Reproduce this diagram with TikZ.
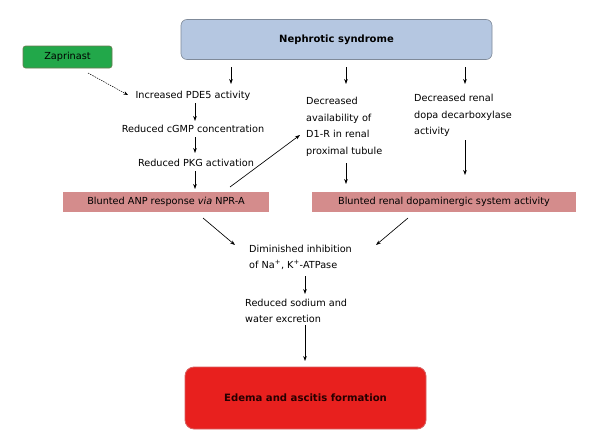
\documentclass[tikz,border=0pt]{standalone}
\usepackage{fontspec}
\setmainfont{DejaVu Sans}
\usetikzlibrary{arrows.meta}
\definecolor{nsblue}{HTML}{B5C7E1}
\definecolor{nsborder}{HTML}{7F8A99}
\definecolor{zgreen}{HTML}{22A84A}
\definecolor{zborder}{HTML}{6B7A50}
\definecolor{pinkbox}{HTML}{D48C8C}
\definecolor{redbox}{HTML}{E8201E}
\definecolor{redborder}{HTML}{D86060}
\begin{document}
\begin{tikzpicture}[x=1pt,y=-1pt,
  txt/.style={font=\fontsize{9.7}{16.5}\selectfont, inner sep=0pt, align=left},
  ctxt/.style={font=\fontsize{9.7}{16.5}\selectfont, inner sep=0pt, align=center},
  pinkb/.style={fill=pinkbox, draw=none, minimum height=20pt, inner sep=0pt, font=\fontsize{9.7}{11}\selectfont},
  arr/.style={-{Stealth[length=5pt,width=3.6pt]}, line width=0.65pt},
  darr/.style={-{Stealth[length=4.5pt,width=3.4pt]}, line width=0.5pt, dash pattern=on 1.5pt off 1pt}
]
\useasboundingbox (0,0) rectangle (595,447);
\fill[white] (0,0) rectangle (595,447);
% Nephrotic syndrome
\node[draw=nsborder, fill=nsblue, rounded corners=6pt, line width=0.6pt, minimum width=311pt, minimum height=40pt, inner sep=0pt, font=\fontsize{10}{12}\selectfont\bfseries] (ns) at (336.5,39.5) {Nephrotic syndrome};
% Zaprinast
\node[draw=zborder, fill=zgreen, rounded corners=2.5pt, line width=0.6pt, minimum width=89pt, minimum height=22pt, inner sep=0pt, font=\fontsize{9.7}{11}\selectfont] (zap) at (67.5,57) {Zaprinast};
% left chain
\node[ctxt] (pde) at (193,95.5) {Increased PDE5 activity};
\node[ctxt] (cgmp) at (193,129) {Reduced cGMP concentration};
\node[ctxt] (pkg) at (196,163) {Reduced PKG activation};
\node[pinkb, minimum width=206pt] (anp) at (166,202) {Blunted ANP response \textit{via} NPR-A};
% middle
\node[txt, anchor=north west] (d1r) at (306,97) {Decreased\\availability of\\D1-R in renal\\proximal tubule};
\node[txt, anchor=north west] (dopa) at (414,94) {Decreased renal\\dopa decarboxylase\\activity};
\node[pinkb, minimum width=264pt] (dop) at (444,202) {Blunted renal dopaminergic system activity};
% lower
\node[txt, anchor=north west] (dim) at (249,244.5) {Diminished inhibition\\of Na\textsuperscript{+}, K\textsuperscript{+}-ATPase};
\node[txt, anchor=north west] (sod) at (245,298.5) {Reduced sodium and\\water excretion};
\node[draw=redborder, fill=redbox, rounded corners=9pt, line width=0.8pt, minimum width=241pt, minimum height=62pt, inner sep=0pt, font=\fontsize{10.1}{12}\selectfont\bfseries, text={black!85!red}] (edema) at (305.5,398) {Edema and ascitis formation};
% arrow end points
\coordinate (a1s) at (231,67); \coordinate (a1e) at (231,84);
\coordinate (a2s) at (346,67); \coordinate (a2e) at (346,84);
\coordinate (a3s) at (465,67); \coordinate (a3e) at (465,84);
\coordinate (zs) at (88,73); \coordinate (ze) at (128,95);
\coordinate (p1s) at (195,103); \coordinate (p1e) at (195,121);
\coordinate (p2s) at (195,137); \coordinate (p2e) at (195,153);
\coordinate (p3s) at (195,171); \coordinate (p3e) at (195,189);
\coordinate (xs) at (230,187); \coordinate (xe) at (300,135);
\coordinate (m1s) at (346,163); \coordinate (m1e) at (346,184);
\coordinate (r1s) at (465,140); \coordinate (r1e) at (465,175);
\coordinate (l2s) at (203,218); \coordinate (l2e) at (235,245);
\coordinate (r2s) at (408,218); \coordinate (r2e) at (376,245);
\coordinate (d1s) at (305,276); \coordinate (d1e) at (305,294);
\coordinate (d2s) at (305,325); \coordinate (d2e) at (305,361);
% arrows
\draw[arr] (a1s) -- (a1e);
\draw[arr] (a2s) -- (a2e);
\draw[arr] (a3s) -- (a3e);
\draw[darr] (zs) -- (ze);
\draw[arr] (p1s) -- (p1e);
\draw[arr] (p2s) -- (p2e);
\draw[arr] (p3s) -- (p3e);
\draw[arr] (xs) -- (xe);
\draw[arr] (m1s) -- (m1e);
\draw[arr] (r1s) -- (r1e);
\draw[arr] (l2s) -- (l2e);
\draw[arr] (r2s) -- (r2e);
\draw[arr] (d1s) -- (d1e);
\draw[arr] (d2s) -- (d2e);
\end{tikzpicture}
\end{document}
